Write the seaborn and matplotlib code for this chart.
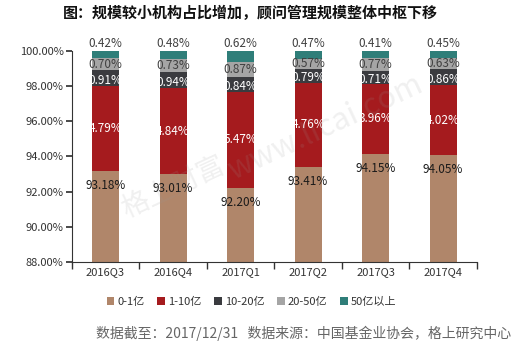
import matplotlib
matplotlib.use("Agg")
import matplotlib.pyplot as plt
import seaborn as sns
import pandas as pd
import numpy as np
from matplotlib.patches import Patch

quarters = ["2016Q3", "2016Q4", "2017Q1", "2017Q2", "2017Q3", "2017Q4"]
series_names = ["0-1亿", "1-10亿", "10-20亿", "20-50亿", "50亿以上"]
s0_1 = [93.18, 93.01, 92.20, 93.41, 94.15, 94.05]
s1_10 = [4.79, 4.84, 5.47, 4.76, 3.96, 4.02]
s10_20 = [0.91, 0.94, 0.84, 0.79, 0.71, 0.86]
s20_50 = [0.70, 0.73, 0.87, 0.57, 0.77, 0.63]
s50 = [0.42, 0.48, 0.62, 0.47, 0.41, 0.45]
yticks = [88, 90, 92, 94, 96, 98, 100]

colors = ["#B0866A", "#A51B1E", "#3A3B3F", "#A5A5A5", "#2F7E79"]
label_colors = ["#1a1a1a", "white", "white", "#404040", "#404040"]

sns.set_theme(style="white")
plt.rcParams["font.family"] = ["Noto Sans CJK SC", "DejaVu Sans"]

series = [s0_1, s1_10, s10_20, s20_50, s50]
cum = np.cumsum(np.array(series), axis=0)

fig = plt.figure(figsize=(5.24, 3.54), dpi=100)
ax = fig.add_axes([0.137, 0.260, 0.773, 0.597])

for i in range(len(series) - 1, -1, -1):
    d = pd.DataFrame({"quarter": quarters, "val": cum[i]})
    sns.barplot(data=d, x="quarter", y="val", color=colors[i], width=0.4,
                saturation=1, ax=ax, zorder=2, linewidth=0, edgecolor="none")

ax.set_ylim(88, 100)
ax.set_xlim(-0.5, 5.5)
ax.set_yticks(yticks)
ax.set_yticklabels([f"{v:.2f}%" for v in yticks], fontsize=8, color="#333333")
ax.set_xticks(range(len(quarters)))
ax.set_xticklabels(quarters, fontsize=8, color="#333333")
ax.set_xlabel("")
ax.set_ylabel("")
for sp in ["top", "right"]:
    ax.spines[sp].set_visible(False)
for sp in ["left", "bottom"]:
    ax.spines[sp].set_color("#333333")
    ax.spines[sp].set_linewidth(0.8)
ax.tick_params(axis="y", length=4, direction="out", left=True, color="#333333", pad=2)
ax.tick_params(axis="x", length=0, pad=4)
ax.set_xticks(np.arange(-0.5, 6.0, 1.0), minor=True)
ax.tick_params(axis="x", which="minor", length=5, direction="out", bottom=True, color="#333333")

fs = 8.5
for j in range(len(quarters)):
    ax.text(j, cum[0][j] - 0.45, f"{s0_1[j]:.2f}%", ha="center", va="top",
            fontsize=fs, color=label_colors[0], zorder=5, clip_on=False)
    ax.text(j, cum[0][j] + s1_10[j] / 2, f"{s1_10[j]:.2f}%", ha="center", va="center",
            fontsize=fs, color=label_colors[1], zorder=5)
    ax.text(j, cum[1][j] + s10_20[j] * 0.35, f"{s10_20[j]:.2f}%", ha="center", va="center",
            fontsize=fs, color=label_colors[2], zorder=5)
    ax.text(j, cum[2][j] + s20_50[j] / 2, f"{s20_50[j]:.2f}%", ha="center", va="center",
            fontsize=fs, color=label_colors[3], zorder=5)
    ax.text(j, cum[4][j] + 0.05, f"{s50[j]:.2f}%", ha="center", va="bottom",
            fontsize=fs, color=label_colors[4], zorder=5, clip_on=False)

handles = [Patch(facecolor=c, edgecolor="none") for c in colors]
fig.legend(handles, series_names, loc="center", bbox_to_anchor=(0.48, 0.147), ncol=5,
           frameon=False, fontsize=8, handlelength=0.7, handleheight=0.7,
           handletextpad=0.3, columnspacing=1.1, labelcolor="#333333")

fig.text(0.478, 0.962, "图：规模较小机构占比增加，顾问管理规模整体中枢下移", ha="center", va="center",
         fontsize=10.8, fontweight="bold", color="#111111")
fig.text(0.975, 0.058, "数据截至：2017/12/31   数据来源：中国基金业协会，格上研究中心", ha="right",
         va="center", fontsize=10, color="#666666")

# watermark
fig.text(0.33, 0.47, "格上财富", rotation=25, fontsize=20, color="#999999", alpha=0.15,
         ha="center", va="center")
fig.text(0.62, 0.64, "www.licai.com", rotation=25, fontsize=22, color="#999999", alpha=0.15,
         ha="center", va="center")

fig.savefig("out.png", dpi=100)
